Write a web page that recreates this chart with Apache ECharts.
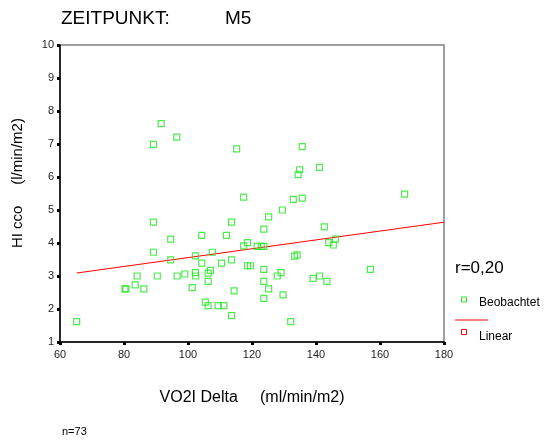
<!DOCTYPE html>
<html>
<head>
<meta charset="utf-8">
<script src="https://cdn.jsdelivr.net/npm/echarts@6/dist/echarts.min.js"></script>
<style>
html,body{margin:0;padding:0;background:#fff;}
#c{width:552px;height:441px;}
</style>
</head>
<body>
<div id="c"></div>
<script>
// Observed points: [VO2I Delta, HI cco]
var observed = [
  [91.6,7.62],[89.2,6.99],[96.5,7.21],[115.2,6.85],[117.4,5.39],[135.7,6.92],
  [134.9,6.22],[134.4,6.07],[141.1,6.29],[132.9,5.32],[135.7,5.36],[167.7,5.48],
  [65.2,1.62],[80.3,2.61],[80.6,2.61],[83.5,2.73],[84.1,3.0],[86.2,2.61],
  [89.2,3.72],[89.2,4.63],[90.4,3.0],[94.6,4.12],[94.6,3.49],[96.6,3.0],
  [99.0,3.06],[101.3,2.65],[102.3,3.61],[102.3,3.10],[102.4,3.0],[104.3,4.23],
  [104.3,3.39],[105.4,2.21],[106.3,3.09],[106.3,2.84],[106.3,2.10],[107.0,3.17],
  [107.6,3.72],[109.4,2.10],[111.2,2.10],[110.5,3.39],[112.0,4.23],[113.6,4.63],
  [113.6,3.49],[113.6,1.80],[114.4,2.55],[117.4,3.91],[118.6,4.01],[118.6,3.31],
  [119.5,3.31],[129.5,5.0],[125.2,4.79],[123.7,4.42],[142.6,4.49],[121.6,3.90],
  [122.9,3.90],[123.7,3.90],[144.0,4.01],[145.4,3.94],[146.1,4.12],[133.3,3.60],
  [134.1,3.64],[123.7,3.20],[129.1,3.10],[127.9,3.0],[123.7,2.84],[125.2,2.61],
  [129.7,2.43],[123.7,2.32],[132.1,1.62],[139.1,2.93],[141.1,3.0],[143.4,2.84],
  [157.0,3.20]
];
// Linear fit line endpoints
var fitLine = [[65.2,3.09],[180,4.63]];
var xTicks = [60,80,100,120,140,160,180];
var yTicks = [1,2,3,4,5,6,7,8,9,10];

var FONT = '"Liberation Sans", Arial, sans-serif';
var chart = echarts.init(document.getElementById('c'));
chart.setOption({
  animation:false,
  backgroundColor:'#fff',
  grid:{left:60,right:108,top:45,bottom:99,show:true,borderColor:'#808080',borderWidth:1.5,backgroundColor:'transparent'},
  xAxis:{
    type:'value',min:xTicks[0],max:xTicks[xTicks.length-1],interval:20,
    name:'VO2I Delta     (ml/min/m2)',nameLocation:'middle',nameGap:48,
    nameTextStyle:{fontFamily:FONT,fontSize:16,color:'#000'},
    axisLine:{show:true,lineStyle:{color:'#000',width:1.5}},
    axisTick:{show:true,length:3,lineStyle:{color:'#000',width:3}},
    axisLabel:{fontFamily:FONT,fontSize:11,color:'#222',margin:7},
    splitLine:{show:false}
  },
  yAxis:{
    type:'value',min:yTicks[0],max:yTicks[yTicks.length-1],interval:1,
    name:'     HI cco     (l/min/m2)',nameLocation:'middle',nameGap:35,nameRotate:90,
    nameTextStyle:{fontFamily:FONT,fontSize:15,color:'#000'},
    axisLine:{show:true,lineStyle:{color:'#000',width:1.5}},
    axisTick:{show:true,length:3,lineStyle:{color:'#000',width:3}},
    axisLabel:{fontFamily:FONT,fontSize:11,color:'#222',margin:6},
    splitLine:{show:false}
  },
  series:[
    {type:'scatter',data:observed,symbol:'rect',symbolSize:6,
     itemStyle:{color:'rgba(0,0,0,0)',borderColor:'#22e622',borderWidth:1.2}},
    {type:'line',data:fitLine,symbol:'none',lineStyle:{color:'#ff0000',width:1},z:1}
  ],
  graphic:[
    {type:'text',left:61,top:9,style:{text:'ZEITPUNKT:',font:'19px '+FONT,fill:'#000'}},
    {type:'text',left:225,top:9,style:{text:'M5',font:'19px '+FONT,fill:'#000'}},
    {type:'text',left:455,top:260,style:{text:'r=0,20',font:'17px '+FONT,fill:'#000'}},
    {type:'rect',shape:{x:461.5,y:297,width:5,height:5},style:{fill:'none',stroke:'#22e622',lineWidth:1}},
    {type:'text',left:479,top:297,style:{text:'Beobachtet',font:'12px '+FONT,fill:'#000'}},
    {type:'line',shape:{x1:455,y1:320,x2:488,y2:320},style:{stroke:'#ff0000',lineWidth:1}},
    {type:'rect',shape:{x:461.5,y:329.5,width:5,height:5},style:{fill:'none',stroke:'#ff0000',lineWidth:1}},
    {type:'text',left:479,top:331,style:{text:'Linear',font:'12px '+FONT,fill:'#000'}},
    {type:'text',left:62,top:426,style:{text:'n=73',font:'11px '+FONT,fill:'#000'}}
  ]
});
</script>
</body>
</html>
